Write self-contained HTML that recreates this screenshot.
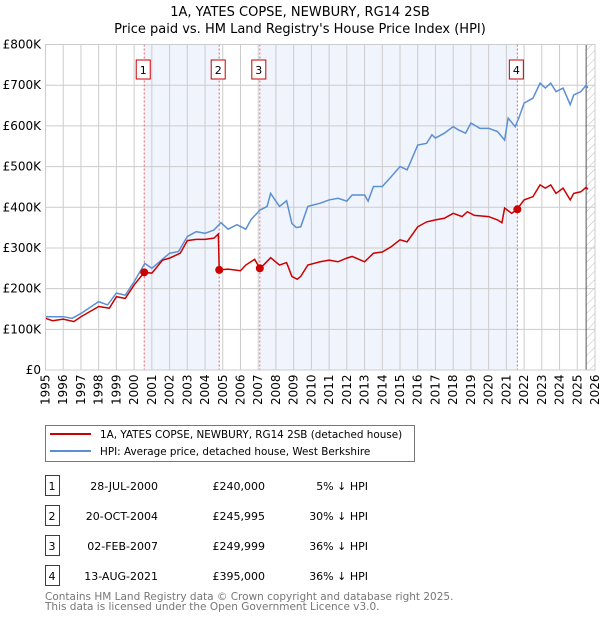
<!DOCTYPE html>
<html><head><meta charset="utf-8"><style>
body{margin:0;background:#fff;font-family:"DejaVu Sans","Liberation Sans",sans-serif;}
svg text{font-family:"DejaVu Sans","Liberation Sans",sans-serif;}
</style></head><body>
<svg id="c" width="600" height="620" xmlns="http://www.w3.org/2000/svg">
<defs><pattern id="hatch" width="6" height="6" patternUnits="userSpaceOnUse" patternTransform="rotate(45)"><line x1="0" y1="0" x2="0" y2="6" stroke="#bbb" stroke-width="1"/></pattern></defs>
<text x="300" y="16" text-anchor="middle" font-size="13">1A, YATES COPSE, NEWBURY, RG14 2SB</text>
<text x="300" y="33" text-anchor="middle" font-size="13">Price paid vs. HM Land Registry's House Price Index (HPI)</text>
<g id="plot"></g>
<g>
<rect x="45.5" y="425.5" width="369" height="36" fill="#fff" stroke="#777"/>
<line x1="50" y1="434" x2="91" y2="434" stroke="#cc0000" stroke-width="2"/>
<text x="100" y="438" font-size="10.4">1A, YATES COPSE, NEWBURY, RG14 2SB (detached house)</text>
<line x1="50" y1="451" x2="91" y2="451" stroke="#5b8fd4" stroke-width="2"/>
<text x="100" y="455" font-size="10.4">HPI: Average price, detached house, West Berkshire</text>
</g>
<g id="table" font-size="11"></g>
<text x="45" y="600" font-size="10.5" fill="#777">Contains HM Land Registry data © Crown copyright and database right 2025.</text>
<text x="45" y="610" font-size="10.5" fill="#777">This data is licensed under the Open Government Licence v3.0.</text>
</svg>
<script>
const hpiYears=[1995,1996,1996.5,1997,1998,1998.5,1999,1999.5,2000,2000.6,2001,2002,2002.5,2003,2003.5,2004,2004.5,2004.9,2005.3,2005.8,2006.3,2006.6,2007.1,2007.5,2007.7,2008.2,2008.6,2008.9,2009.15,2009.4,2009.8,2010.5,2011,2011.5,2012,2012.3,2013,2013.2,2013.5,2014,2014.5,2015,2015.4,2015.6,2016,2016.5,2016.8,2017,2017.5,2018,2018.3,2018.7,2019,2019.5,2020,2020.5,2020.9,2021.1,2021.5,2021.7,2022,2022.5,2022.9,2023.2,2023.5,2023.8,2024.2,2024.6,2024.8,2025.2,2025.5,2025.6];
const hpiValues=[131,131,127,139,168,160,189,184,217,262,250,287,291,328,340,336,344,362,346,357,346,370,393,402,434,402,416,360,350,352,402,410,418,422,415,430,430,415,451,451,475,500,492,512,553,557,578,570,582,598,590,582,607,594,594,586,565,619,598,619,656,668,705,693,705,684,693,652,676,684,700,693];
const ppYears=[1995,1995.4,1996,1996.6,1997,1998,1998.6,1999,1999.5,2000,2000.57,2001,2001.6,2002,2002.6,2003,2003.5,2004,2004.5,2004.75,2004.8,2005.3,2006,2006.3,2006.8,2007.09,2007.3,2007.7,2008.2,2008.6,2008.9,2009.2,2009.4,2009.8,2010.5,2011,2011.5,2012,2012.3,2013,2013.5,2014,2014.5,2015,2015.4,2016,2016.5,2017,2017.5,2018,2018.5,2018.8,2019.2,2020,2020.5,2020.75,2020.9,2021.3,2021.6,2022,2022.5,2022.9,2023.2,2023.5,2023.8,2024.2,2024.6,2024.8,2025.2,2025.5,2025.6];
const ppValues=[127,121,125,119,131,156,152,180,176,209,240,238,270,275,287,318,321,321,324,334,246,248,244,258,272,250,258,276,258,264,230,223,230,258,266,270,266,275,279,266,287,290,303,320,315,352,364,369,373,385,377,389,380,377,369,362,398,385,395,418,426,455,447,455,434,447,418,434,438,449,444];
const saleLabels=["1","2","3","4"];
const saleYears=[2000.57,2004.8,2007.09,2021.62];
const saleValues=[240,245.995,249.999,395];
const saleDates=["28-JUL-2000","20-OCT-2004","02-FEB-2007","13-AUG-2021"];
const salePrices=["£240,000","£245,995","£249,999","£395,000"];
const saleHpi=["5% ↓ HPI","30% ↓ HPI","36% ↓ HPI","36% ↓ HPI"];
const yTicks=[0,100,200,300,400,500,600,700,800];
const yTickLabels=["£0","£100K","£200K","£300K","£400K","£500K","£600K","£700K","£800K"];
const xTicks=[1995,1996,1997,1998,1999,2000,2001,2002,2003,2004,2005,2006,2007,2008,2009,2010,2011,2012,2013,2014,2015,2016,2017,2018,2019,2020,2021,2022,2023,2024,2025,2026];
const L=45.5,R=595,T=44.5,B=370;
const x=v=>L+(v-1995)/31*(R-L);
const y=v=>B-v/800*(B-T);
const NS="http://www.w3.org/2000/svg";
const g=document.getElementById('plot');
function mk(tag,attrs,parent){const e=document.createElementNS(NS,tag);for(const k in attrs)e.setAttribute(k,attrs[k]);(parent||g).appendChild(e);return e;}
let e;
e=mk('rect',{x:x(saleYears[0]),y:T,width:x(saleYears[1])-x(saleYears[0]),height:B-T,fill:'#f0f4fd'});


e=mk('rect',{x:x(saleYears[2]),y:T,width:x(saleYears[3])-x(saleYears[2]),height:B-T,fill:'#f0f4fd'});


e=mk('rect',{x:x(2025.5),y:T,width:R-x(2025.5),height:B-T,fill:'url(#hatch)'});


xTicks.forEach((t,i)=>{
 e=mk('line',{x1:x(t),y1:T,x2:x(t),y2:B,stroke:'#ccc','stroke-width':1});
 
 
 e=mk('text',{x:0,y:0,transform:`translate(${x(t)+4},${B+35}) rotate(-90)`,'font-size':12});
 e.textContent=t;
 
 
});
yTicks.forEach((t,i)=>{
 e=mk('line',{x1:L,y1:y(t),x2:R,y2:y(t),stroke:'#ccc','stroke-width':1});
 
 
 e=mk('text',{x:41,y:y(t)+4,'text-anchor':'end','font-size':12});
 e.textContent=yTickLabels[i];
 
 
});
e=mk('line',{x1:x(2025.5),y1:T,x2:x(2025.5),y2:B,stroke:'#555','stroke-width':1});


saleYears.forEach((s,i)=>{
 e=mk('line',{x1:x(s),y1:T,x2:x(s),y2:B,stroke:'#f06060','stroke-width':1,'stroke-dasharray':'2,2'});
 
 
 e=mk('rect',{x:x(s)-8,y:60,width:14,height:19,fill:'#fff',stroke:'#cc0000'});
 
 
 e=mk('text',{x:x(s)-1,y:74,'text-anchor':'middle','font-size':11});
 e.textContent=saleLabels[i];
 
 
});
e=mk('polyline',{points:hpiYears.map((v,i)=>x(v)+','+y(hpiValues[i])).join(' '),fill:'none',stroke:'#5b8fd4','stroke-width':1.5});


e=mk('polyline',{points:ppYears.map((v,i)=>x(v)+','+y(ppValues[i])).join(' '),fill:'none',stroke:'#cc0000','stroke-width':1.5});


saleYears.forEach((s,i)=>{
 e=mk('circle',{cx:x(s),cy:y(saleValues[i]),r:4,fill:'#cc0000'});
 
 
});
e=mk('rect',{x:L,y:T,width:R-L,height:B-T,fill:'none',stroke:'#ccc'});


const tb=document.getElementById('table');
saleLabels.forEach((s,i)=>{
 const ry=476+i*30;
 e=mk('rect',{x:45.5,y:ry-0.5,width:14,height:20,fill:'#fff',stroke:'#cc0000'},tb);
 
 
 e=mk('text',{x:52,y:ry+14,'text-anchor':'middle'},tb);e.textContent=s;
 
 
 e=mk('text',{x:158,y:ry+14,'text-anchor':'end'},tb);e.textContent=saleDates[i];
 
 
 e=mk('text',{x:265,y:ry+14,'text-anchor':'end'},tb);e.textContent=salePrices[i];
 
 
 e=mk('text',{x:368,y:ry+14,'text-anchor':'end'},tb);e.textContent=saleHpi[i];
 
 
});
</script>
</body></html>
